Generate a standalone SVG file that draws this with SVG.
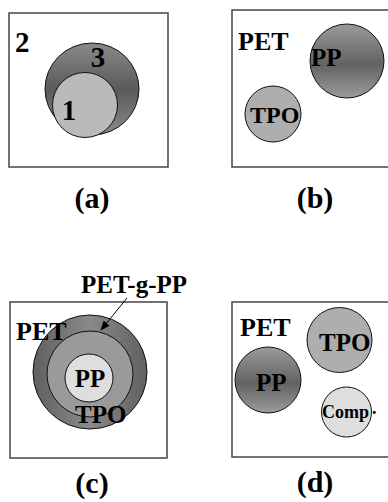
<svg xmlns="http://www.w3.org/2000/svg" width="388" height="502" viewBox="0 0 388 502">
<style>
.box{fill:#fff;stroke:#444;stroke-width:1.5}
.c{stroke:#111;stroke-width:1}
text{font-family:"Liberation Serif","Times New Roman",serif;font-weight:bold;fill:#000}
.big{font-size:29px}
.cap{font-size:30px}
.lab{font-size:26px}
.mid{text-anchor:middle}
.conn{stroke:#000;stroke-width:1;fill:none}
</style>
<defs>
<linearGradient id="gv" x1="0" y1="0" x2="0" y2="1">
<stop offset="0" stop-color="#9a9a9a"/>
<stop offset="0.55" stop-color="#626262"/>
<stop offset="1" stop-color="#9c9c9c"/>
</linearGradient>
<linearGradient id="ga" x1="0" y1="0" x2="0" y2="1">
<stop offset="0" stop-color="#8a8a8a"/>
<stop offset="0.5" stop-color="#5a5a5a"/>
<stop offset="1" stop-color="#8a8a8a"/>
</linearGradient>
<linearGradient id="gh" x1="0" y1="0" x2="1" y2="0">
<stop offset="0" stop-color="#606060"/>
<stop offset="0.5" stop-color="#8a8a8a"/>
<stop offset="1" stop-color="#606060"/>
</linearGradient>
<marker id="ah" markerWidth="10" markerHeight="8" refX="9" refY="4" orient="auto" markerUnits="userSpaceOnUse">
<path d="M0,0 L10,4 L0,8 z" fill="#000"/>
</marker>
</defs>

<g id="panel-a">
<rect class="box" x="9" y="13" width="159" height="154"/>
<ellipse id="a-3" class="c" cx="92" cy="89" rx="47" ry="46" fill="url(#ga)"/>
<circle id="a-1" class="c" cx="85" cy="105" r="32.5" fill="#bababa"/>
<text class="big" x="15" y="52">2</text>
<text class="big mid" x="98" y="67">3</text>
<text class="big mid" x="69" y="120">1</text>
<text class="cap mid" x="92" y="208">(a)</text>
</g>

<g id="panel-b">
<rect class="box" x="232" y="10" width="170" height="157"/>
<text class="lab" x="238" y="50">PET</text>
<g id="b-pp">
<circle class="c" cx="347" cy="61" r="37" fill="url(#gv)"/>
<text x="311" y="66" style="font-size:25px">PP</text>
</g>
<g id="b-tpo">
<circle class="c" cx="273" cy="114" r="28" fill="#aeaeae"/>
<text x="250" y="123" style="font-size:24px">TPO</text>
</g>
<text class="cap mid" x="315" y="208">(b)</text>
</g>

<g id="panel-c">
<rect class="box" x="10" y="302" width="157" height="156"/>
<circle id="c-ring" class="c" cx="90" cy="372" r="57" fill="url(#gh)"/>
<circle id="c-tpo" class="c" cx="90" cy="374" r="43" fill="#9a9a9a"/>
<circle id="c-pp" class="c" cx="89" cy="378" r="24" fill="#dedede"/>
<text class="lab" x="16" y="340">PET</text>
<text class="mid" x="90" y="387" style="font-size:25px">PP</text>
<text x="75" y="423" style="font-size:25px">TPO</text>
<text x="81" y="293" style="font-size:25px">PET-g-PP</text>
<text class="cap mid" x="92" y="493">(c)</text>
</g>

<g id="panel-d">
<rect class="box" x="232" y="302" width="170" height="155"/>
<text class="lab" x="240" y="336">PET</text>
<g id="d-pp">
<circle class="c" cx="268" cy="380" r="33" fill="url(#gv)"/>
<text x="256" y="391" style="font-size:25px">PP</text>
</g>
<g id="d-tpo">
<circle class="c" cx="339.5" cy="340" r="32.5" fill="#aeaeae"/>
<text x="319" y="351" style="font-size:25px">TPO</text>
</g>
<g id="d-comp">
<circle class="c" cx="346.5" cy="412" r="25" fill="#dedede"/>
<text x="322" y="418" style="font-size:18px">Comp<tspan dx="3" dy="-4">.</tspan></text>
</g>
<text class="cap mid" x="315" y="492">(d)</text>
</g>

<g id="connectors">
<line class="conn" x1="127" y1="298" x2="101" y2="330" marker-end="url(#ah)"/>
</g>
</svg>
